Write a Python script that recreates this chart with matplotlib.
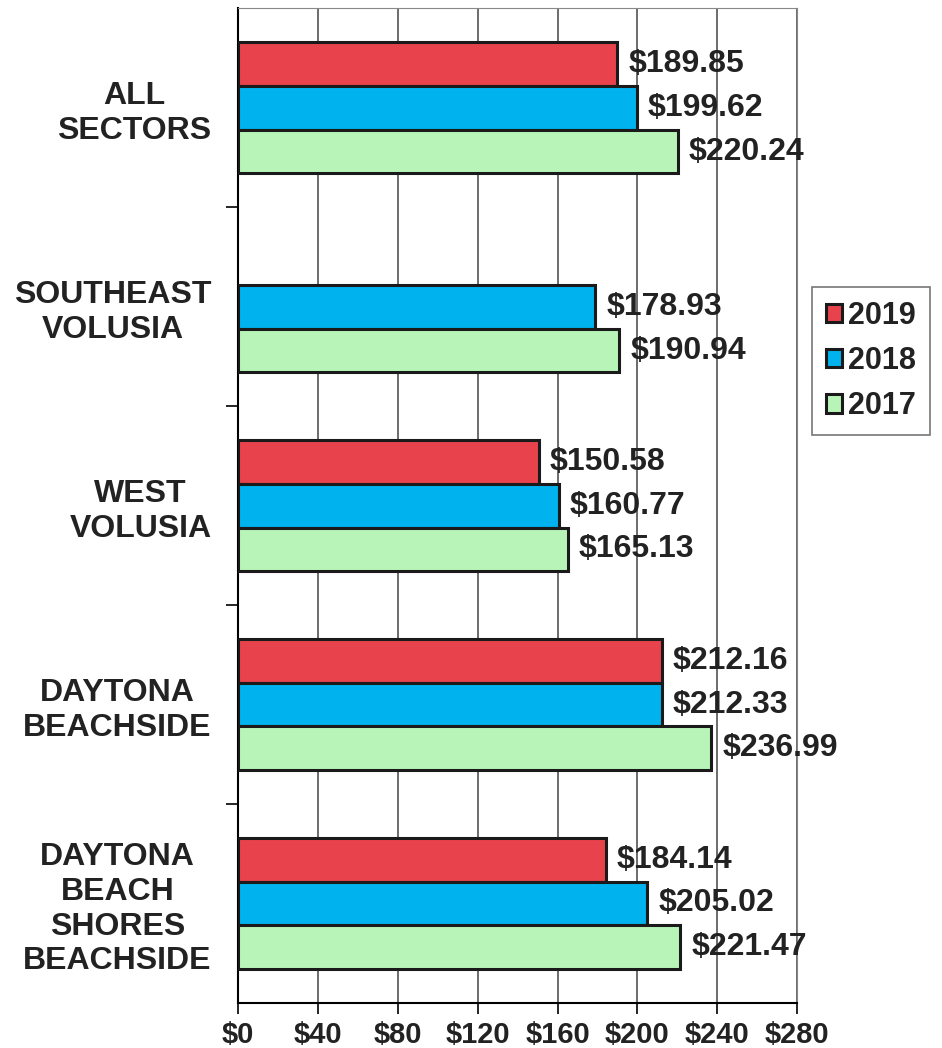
"""Average values by sector, 2017-2019"""
import numpy as np
import matplotlib
matplotlib.use("Agg")
import matplotlib.pyplot as plt

sectors = ["ALL\nSECTORS", "SOUTHEAST\nVOLUSIA", "WEST\nVOLUSIA",
           "DAYTONA\nBEACHSIDE", "DAYTONA\nBEACH\nSHORES\nBEACHSIDE"]
years = ["2019", "2018", "2017"]
values_2019 = [189.85, np.nan, 150.58, 212.16, 184.14]
values_2018 = [199.62, 178.93, 160.77, 212.33, 205.02]
values_2017 = [220.24, 190.94, 165.13, 236.99, 221.47]
x_ticks = [0, 40, 80, 120, 160, 200, 240, 280]
colors = ["#E8434C", "#00B2EE", "#B8F4B8"]


def plot():
    """Draw the grouped horizontal bars"""
    plt.rcParams["font.family"] = ["Liberation Sans", "DejaVu Sans"]
    plt.rcParams["font.weight"] = "bold"
    fig = plt.figure(figsize=(9.42, 10.48), dpi=100)
    ax = fig.add_axes([0.2527, 0.043, 0.5935, 0.949])

    pos = np.arange(len(sectors))
    h = 0.22
    series = [values_2019, values_2018, values_2017]
    for i, (vals, year, col) in enumerate(zip(series, years, colors)):
        y = pos + (i - 1) * h
        ax.barh(y, vals, height=h, color=col, edgecolor="#1a1a1a",
                linewidth=2.2, label=year, zorder=3)
        for yy, v in zip(y, vals):
            if np.isnan(v):
                continue
            ax.text(v + 5.5, yy, f"${v:.2f}", va="center", ha="left",
                    fontsize=23, fontweight="bold", color="#222222", zorder=4)

    ax.set_xlim(0, 280)
    ax.set_ylim(len(sectors) - 0.5, -0.5)
    ax.set_xticks(x_ticks)
    ax.set_xticklabels([f"${t}" for t in x_ticks], fontsize=21,
                       fontweight="bold", color="#222222")
    ax.tick_params(axis="x", length=8, width=1.2, pad=5)

    # group boundaries as major ticks, names as minor ticks
    ax.set_yticks(np.arange(0.5, len(sectors) - 0.5, 1.0))
    ax.set_yticklabels([])
    ax.tick_params(axis="y", which="major", length=9, width=1.2)
    ax.set_yticks(pos, minor=True)
    ax.set_yticklabels(sectors, minor=True, fontsize=23, fontweight="bold",
                       color="#222222", multialignment="center")
    ax.tick_params(axis="y", which="minor", length=0, pad=19)

    ax.grid(axis="x", color="#444444", linewidth=1.1, zorder=0)
    for side in ["top", "right"]:
        ax.spines[side].set_color("#888888")
    for side in ["left", "bottom"]:
        ax.spines[side].set_linewidth(1.5)

    leg = ax.legend(loc="center", bbox_to_anchor=(0.9246, 0.6555),
                    bbox_transform=fig.transFigure, fontsize=22,
                    handlelength=0.55, handleheight=0.55, handletextpad=0.2,
                    labelspacing=0.5, borderpad=0.45, frameon=True,
                    fancybox=False, edgecolor="#555555")
    leg.get_frame().set_linewidth(1.2)
    for t in leg.get_texts():
        t.set_color("#222222")

    fig.savefig("out.png", dpi=100)


plot()
